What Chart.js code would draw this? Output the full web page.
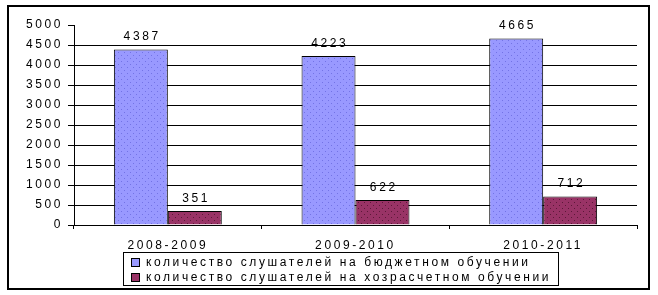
<!DOCTYPE html>
<html>
<head>
<meta charset="utf-8">
<script src="https://cdn.jsdelivr.net/npm/chart.js@4"></script>
<style>
  body { margin: 0; background: #fff; }
  canvas { display: block; }
</style>
</head>
<body>
<canvas id="grafico" width="658" height="295"></canvas>
<script>
// dados do gráfico
const anos = ["2008-2009", "2009-2010", "2010-2011"];
const budjetnoe = [4387, 4223, 4665];
const hozrasch = [351, 622, 712];
const nomesSeries = [
  "количество слушателей на бюджетном обучении",
  "количество слушателей на хозрасчетном обучении"
];
const ticksY = [0, 500, 1000, 1500, 2000, 2500, 3000, 3500, 4000, 4500, 5000];

const FONTE = "12px 'Liberation Sans', Arial, sans-serif";
const ESPACO = 2.6; // espaçamento entre letras
const AZUL = "#9999ff";
const VINHO = "#993366";

// textura pontilhada das barras
function criarPadrao(fundo, ponto) {
  const c = document.createElement("canvas");
  c.width = 6; c.height = 6;
  const g = c.getContext("2d");
  g.fillStyle = fundo;
  g.fillRect(0, 0, 6, 6);
  g.fillStyle = ponto;
  g.fillRect(1, 1, 1, 1);
  g.fillRect(4, 4, 1, 1);
  return g.createPattern(c, "repeat");
}

const espacamento = {
  id: "espacamento",
  beforeInit(chart) { chart.ctx.letterSpacing = ESPACO + "px"; },
  beforeLayout(chart) { chart.ctx.letterSpacing = ESPACO + "px"; },
  beforeDraw(chart) { chart.ctx.letterSpacing = ESPACO + "px"; }
};

// valores acima das barras
const rotulos = {
  id: "rotulos",
  afterDatasetsDraw(chart) {
    const ctx = chart.ctx;
    ctx.save();
    ctx.letterSpacing = ESPACO + "px";
    ctx.font = FONTE;
    ctx.fillStyle = "#000";
    ctx.textAlign = "center";
    ctx.textBaseline = "middle";
    chart.data.datasets.forEach((ds, i) => {
      chart.getDatasetMeta(i).data.forEach((bar, j) => {
        ctx.fillText(String(ds.data[j]), bar.x + ESPACO / 2, bar.y - 12.5);
      });
    });
    ctx.restore();
  }
};

// moldura externa e legenda em caixa
const moldura = {
  id: "moldura",
  afterDraw(chart) {
    const ctx = chart.ctx;
    ctx.save();
    ctx.strokeStyle = "#000";
    ctx.lineWidth = 2;
    ctx.strokeRect(8, 6, 641, 283);

    ctx.lineWidth = 1;
    ctx.strokeRect(123.5, 252.5, 435, 33);
    const cores = [AZUL, VINHO];
    const linhas = [262, 277];
    ctx.font = FONTE;
    ctx.letterSpacing = ESPACO + "px";
    ctx.textBaseline = "middle";
    ctx.textAlign = "left";
    chart.data.datasets.forEach((ds, i) => {
      const y = linhas[i];
      ctx.fillStyle = cores[i];
      ctx.fillRect(131, y - 4, 8, 8);
      ctx.strokeRect(131.5, y - 3.5, 8, 8);
      ctx.fillStyle = "#000";
      ctx.fillText(ds.label, 146, y + 0.5);
    });
    ctx.restore();
  }
};

new Chart(document.getElementById("grafico"), {
  type: "bar",
  data: {
    labels: anos,
    datasets: [
      {
        label: nomesSeries[0],
        data: budjetnoe,
        backgroundColor: criarPadrao(AZUL, "#7373e6"),
        borderColor: "#000",
        borderWidth: 1,
        categoryPercentage: 0.575,
        barPercentage: 1
      },
      {
        label: nomesSeries[1],
        data: hozrasch,
        backgroundColor: criarPadrao(VINHO, "#5c1838"),
        borderColor: "#000",
        borderWidth: 1,
        categoryPercentage: 0.575,
        barPercentage: 1
      }
    ]
  },
  options: {
    responsive: false,
    animation: false,
    layout: { padding: { left: 0, right: 21, top: 25, bottom: 0 } },
    plugins: {
      legend: { display: false },
      tooltip: { enabled: false }
    },
    scales: {
      x: {
        afterFit: (s) => { s.height = 70; },
        border: { color: "#000", width: 1 },
        grid: {
          offset: true,
          drawOnChartArea: false,
          tickLength: 4,
          color: "#000"
        },
        ticks: {
          color: "#000",
          font: { family: "'Liberation Sans', Arial, sans-serif", size: 12 },
          padding: 9
        }
      },
      y: {
        min: 0,
        max: 5000,
        afterFit: (s) => { s.width = 74; },
        afterBuildTicks: (s) => { s.ticks = ticksY.map(v => ({ value: v })); },
        border: { color: "#000", width: 1 },
        grid: {
          tickLength: 6,
          tickColor: "#000",
          color: (c) => (c.tick && c.tick.value === 5000 ? "rgba(0,0,0,0)" : "#000")
        },
        ticks: {
          color: "#000",
          font: { family: "'Liberation Sans', Arial, sans-serif", size: 12 },
          padding: 5,
          callback: (v) => String(v)
        }
      }
    }
  },
  plugins: [espacamento, rotulos, moldura]
});
</script>
</body>
</html>
